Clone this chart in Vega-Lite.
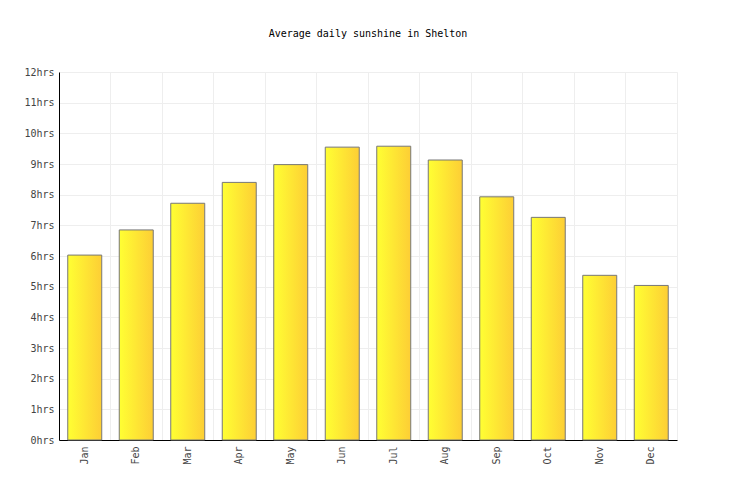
{
  "$schema": "https://vega.github.io/schema/vega-lite/v6.json",
  "autosize": "none",
  "width": 618,
  "height": 368,
  "padding": {"left": 59, "top": 72, "right": 59, "bottom": 60},
  "background": "white",
  "config": {
    "font": "DejaVu Sans Mono",
    "view": {"stroke": "#eeeeee", "strokeWidth": 1}
  },
  "title": {
    "text": "Average daily sunshine in Shelton",
    "font": "DejaVu Sans Mono",
    "fontSize": 10,
    "fontWeight": "normal",
    "color": "#000000",
    "anchor": "middle",
    "offset": 28
  },
  "data": {
    "values": [
      {"month": "Jan", "hours": 6.03},
      {"month": "Feb", "hours": 6.85},
      {"month": "Mar", "hours": 7.72},
      {"month": "Apr", "hours": 8.4},
      {"month": "May", "hours": 8.98},
      {"month": "Jun", "hours": 9.55},
      {"month": "Jul", "hours": 9.58},
      {"month": "Aug", "hours": 9.13},
      {"month": "Sep", "hours": 7.93},
      {"month": "Oct", "hours": 7.26},
      {"month": "Nov", "hours": 5.37},
      {"month": "Dec", "hours": 5.04}
    ]
  },
  "mark": {
    "type": "bar",
    "stroke": "#777777",
    "strokeWidth": 1,
    "color": {
      "gradient": "linear",
      "x1": 0, "x2": 1, "y1": 0, "y2": 0,
      "stops": [
        {"offset": 0, "color": "#ffff33"},
        {"offset": 1, "color": "#fdce35"}
      ]
    }
  },
  "encoding": {
    "x": {
      "field": "month",
      "type": "nominal",
      "sort": null,
      "title": null,
      "scale": {"paddingInner": 0.34, "paddingOuter": 0.17},
      "axis": {
        "labelAngle": -90,
        "labelFontSize": 10,
        "labelColor": "#444444",
        "labelPadding": 6,
        "ticks": false,
        "domainColor": "#000000",
        "domainWidth": 1,
        "grid": true,
        "gridColor": "#eeeeee",
        "bandPosition": -0.257
      }
    },
    "y": {
      "field": "hours",
      "type": "quantitative",
      "title": null,
      "scale": {"domain": [0, 12], "nice": false},
      "axis": {
        "values": [0, 1, 2, 3, 4, 5, 6, 7, 8, 9, 10, 11, 12],
        "labelExpr": "datum.value + 'hrs'",
        "labelFontSize": 10,
        "labelColor": "#444444",
        "labelPadding": 5,
        "ticks": false,
        "domainColor": "#000000",
        "domainWidth": 1,
        "gridColor": "#eeeeee"
      }
    }
  }
}
